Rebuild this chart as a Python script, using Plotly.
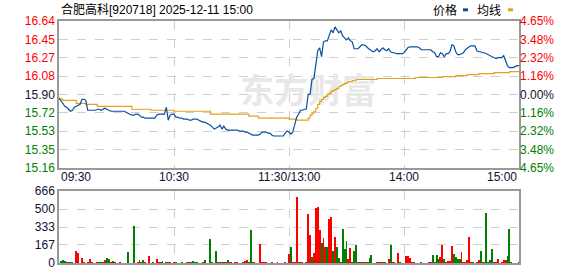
import plotly.graph_objects as go

# ---------------- data ----------------
title_text = "合肥高科[920718] 2025-12-11 15:00"
prev_close = 15.90
price_min, price_max = 15.16, 16.64
price_tick_labels = ["15.16", "15.35", "15.53", "15.72", "15.90", "16.08", "16.27", "16.45", "16.64"]
pct_tick_labels = ["4.65%", "3.48%", "2.32%", "1.16%", "0.00%", "1.16%", "2.32%", "3.48%", "4.65%"]
vol_ticks = [0, 167, 333, 500, 666]
time_labels = ["09:30", "10:30", "11:30/13:00", "14:00", "15:00"]
time_label_minute = [0, 60, 120, 180, 240]

# minute-by-minute last price (241 minutes)
price = [
    15.86, 15.84, 15.81, 15.78, 15.77, 15.75, 15.73, 15.74, 15.77, 15.78,
    15.79, 15.80, 15.85, 15.85, 15.84, 15.74, 15.74, 15.74, 15.74, 15.74,
    15.75, 15.75, 15.74, 15.75, 15.76, 15.75, 15.74, 15.73, 15.73, 15.73,
    15.73, 15.73, 15.73, 15.73, 15.73, 15.72, 15.71, 15.70, 15.69, 15.69,
    15.70, 15.70, 15.69, 15.67, 15.67, 15.66, 15.66, 15.66, 15.66, 15.66,
    15.66, 15.69, 15.70, 15.70, 15.70, 15.70, 15.77, 15.64, 15.69, 15.70,
    15.70, 15.67, 15.67, 15.66, 15.66, 15.65, 15.65, 15.65, 15.64, 15.64,
    15.65, 15.65, 15.65, 15.64, 15.63, 15.62, 15.62, 15.61, 15.60, 15.59,
    15.57, 15.55, 15.56, 15.57, 15.59, 15.55, 15.58, 15.55, 15.54, 15.54,
    15.54, 15.54, 15.54, 15.54, 15.53, 15.53, 15.53, 15.52, 15.52, 15.51,
    15.50, 15.49, 15.49, 15.49, 15.49, 15.50, 15.52, 15.52, 15.52, 15.51,
    15.51, 15.49, 15.48, 15.48, 15.48, 15.48, 15.48, 15.48, 15.51, 15.53,
    15.52, 15.50, 15.52, 15.60, 15.67, 15.70, 15.74, 15.74, 15.75, 15.75,
    15.90, 15.90, 16.05, 16.06, 16.22, 16.34, 16.37, 16.28, 16.43, 16.44,
    16.44, 16.50, 16.55, 16.52, 16.58, 16.55, 16.52, 16.54, 16.49, 16.47,
    16.45, 16.47, 16.44, 16.43, 16.36, 16.36, 16.36, 16.38, 16.40, 16.40,
    16.39, 16.37, 16.35, 16.34, 16.33, 16.34, 16.36, 16.33, 16.35, 16.37,
    16.35, 16.34, 16.36, 16.33, 16.32, 16.32, 16.31, 16.31, 16.31, 16.31,
    16.32, 16.35, 16.37, 16.38, 16.38, 16.38, 16.38, 16.38, 16.37, 16.35,
    16.35, 16.35, 16.35, 16.35, 16.35, 16.33, 16.32, 16.28, 16.28, 16.32,
    16.31, 16.28, 16.31, 16.31, 16.33, 16.40, 16.39, 16.33, 16.30, 16.30,
    16.31, 16.32, 16.35, 16.37, 16.38, 16.39, 16.39, 16.39, 16.34, 16.33,
    16.33, 16.32, 16.32, 16.31, 16.30, 16.29, 16.28, 16.27, 16.26, 16.27,
    16.27, 16.27, 16.29, 16.23, 16.19, 16.17, 16.17, 16.17, 16.18, 16.19,
    16.19,
]

# minute-by-minute average price
avg_price = [
    15.86, 15.85, 15.84, 15.84, 15.84, 15.84, 15.84, 15.84, 15.84, 15.81,
    15.81, 15.81, 15.81, 15.81, 15.80, 15.80, 15.80, 15.80, 15.80, 15.80,
    15.78, 15.78, 15.78, 15.78, 15.78, 15.78, 15.78, 15.78, 15.78, 15.78,
    15.78, 15.78, 15.78, 15.78, 15.78, 15.78, 15.78, 15.78, 15.75, 15.75,
    15.75, 15.75, 15.75, 15.75, 15.75, 15.75, 15.75, 15.75, 15.74, 15.74,
    15.74, 15.74, 15.74, 15.74, 15.74, 15.74, 15.74, 15.74, 15.74, 15.74,
    15.73, 15.73, 15.73, 15.73, 15.73, 15.73, 15.73, 15.73, 15.73, 15.73,
    15.73, 15.73, 15.73, 15.73, 15.73, 15.73, 15.73, 15.73, 15.73, 15.70,
    15.70, 15.70, 15.70, 15.70, 15.70, 15.70, 15.70, 15.70, 15.70, 15.70,
    15.70, 15.70, 15.70, 15.70, 15.70, 15.70, 15.70, 15.70, 15.70, 15.68,
    15.68, 15.68, 15.68, 15.68, 15.66, 15.66, 15.66, 15.66, 15.66, 15.66,
    15.66, 15.66, 15.66, 15.66, 15.66, 15.66, 15.66, 15.66, 15.66, 15.66,
    15.65, 15.65, 15.65, 15.65, 15.64, 15.64, 15.64, 15.64, 15.64, 15.64,
    15.66, 15.69, 15.71, 15.73, 15.76, 15.80, 15.83, 15.85, 15.87, 15.88,
    15.90, 15.91, 15.93, 15.94, 15.95, 15.96, 15.98, 15.99, 16.00, 16.01,
    16.02, 16.03, 16.03, 16.04, 16.04, 16.05, 16.05, 16.05, 16.05, 16.05,
    16.05, 16.05, 16.05, 16.05, 16.05, 16.05, 16.06, 16.06, 16.06, 16.06,
    16.06, 16.06, 16.06, 16.06, 16.06, 16.06, 16.06, 16.06, 16.06, 16.06,
    16.06, 16.06, 16.06, 16.06, 16.06, 16.06, 16.07, 16.07, 16.07, 16.07,
    16.07, 16.07, 16.07, 16.07, 16.07, 16.07, 16.07, 16.07, 16.07, 16.07,
    16.08, 16.08, 16.08, 16.08, 16.08, 16.08, 16.08, 16.09, 16.09, 16.09,
    16.09, 16.09, 16.09, 16.10, 16.10, 16.10, 16.10, 16.10, 16.10, 16.11,
    16.11, 16.11, 16.11, 16.11, 16.11, 16.11, 16.11, 16.12, 16.12, 16.12,
    16.12, 16.12, 16.12, 16.12, 16.12, 16.13, 16.13, 16.13, 16.13, 16.13,
    16.13,
]

# volume bars: minute index, volume (lots), direction (u = up/red, d = down/green)
vol_minute = [
    1, 2, 3, 4, 5, 6, 7, 9, 10, 12, 13, 15, 16, 17, 20, 21, 22, 23, 24, 25,
    26, 27, 28, 29, 32, 36, 39, 41, 42, 43, 44, 45, 47, 49, 51, 52, 53, 54, 56, 57,
    58, 60, 61, 64, 67, 68, 69, 70, 71, 72, 75, 76, 79, 80, 82, 83, 84, 85, 86, 87,
    88, 89, 90, 92, 93, 96, 97, 98, 99, 100, 101, 102, 105, 106, 107, 108, 111, 114, 118, 120,
    121, 122, 123, 124, 125, 126, 127, 129, 130, 131, 132, 133, 134, 135, 136, 137, 138, 139, 140, 141,
    142, 143, 144, 145, 146, 147, 148, 149, 150, 151, 152, 153, 154, 155, 156, 157, 158, 159, 160, 161,
    162, 163, 166, 167, 168, 169, 170, 172, 173, 174, 175, 177, 178, 181, 182, 183, 184, 185, 189, 193,
    194, 195, 196, 197, 198, 199, 200, 201, 202, 203, 204, 205, 206, 207, 208, 209, 210, 211, 212, 213,
    214, 215, 216, 218, 219, 220, 221, 222, 223, 224, 225, 226, 227, 228, 229, 231, 232, 233, 234, 235,
    236, 240,
]
vol_value = [
    21, 30, 9, 8, 8, 8, 8, 108, 90, 48, 8, 8, 36, 8, 8, 8, 8, 8, 27, 45,
    36, 8, 18, 8, 8, 99, 345, 8, 27, 8, 27, 8, 63, 8, 36, 8, 8, 18, 8, 8,
    8, 8, 8, 8, 8, 8, 8, 18, 8, 8, 8, 27, 225, 8, 108, 8, 8, 8, 8, 8,
    27, 8, 8, 8, 8, 8, 18, 27, 8, 306, 8, 8, 171, 8, 8, 8, 8, 8, 8, 81,
    150, 8, 8, 612, 8, 8, 8, 8, 450, 261, 54, 90, 513, 522, 306, 189, 234, 144, 144, 405,
    423, 108, 243, 144, 45, 8, 315, 126, 207, 36, 135, 8, 108, 162, 8, 8, 8, 8, 8, 8,
    45, 72, 8, 8, 8, 8, 8, 36, 162, 8, 8, 90, 8, 63, 63, 45, 8, 8, 8, 8,
    8, 72, 8, 72, 36, 54, 162, 36, 8, 18, 18, 153, 81, 54, 36, 36, 99, 8, 8, 27,
    243, 8, 8, 8, 27, 108, 8, 8, 459, 8, 27, 126, 8, 8, 36, 8, 27, 27, 63, 315,
    8, 8,
]
vol_dir = [
    "d", "d", "d", "u", "d", "d", "d", "u", "u", "u", "u", "d", "u", "u", "u", "d", "d", "d", "u", "d",
    "d", "u", "d", "u", "u", "d", "d", "u", "u", "d", "d", "u", "u", "d", "u", "u", "d", "u", "d", "d",
    "u", "u", "d", "d", "u", "u", "d", "d", "d", "d", "u", "d", "d", "d", "d", "u", "u", "d", "d", "u",
    "d", "u", "u", "u", "u", "d", "u", "u", "d", "d", "d", "u", "u", "u", "u", "u", "d", "u", "u", "u",
    "d", "u", "u", "u", "d", "u", "u", "d", "u", "u", "d", "u", "u", "u", "u", "d", "u", "u", "d", "u",
    "u", "d", "u", "d", "d", "u", "d", "d", "d", "u", "u", "d", "d", "d", "u", "d", "u", "d", "u", "d",
    "d", "d", "u", "u", "d", "u", "d", "u", "d", "d", "u", "u", "d", "u", "u", "u", "u", "u", "d", "u",
    "u", "d", "d", "d", "d", "u", "u", "d", "u", "u", "u", "u", "d", "d", "d", "d", "u", "u", "u", "u",
    "u", "u", "d", "d", "u", "d", "u", "d", "d", "d", "d", "d", "u", "u", "u", "u", "u", "u", "d", "d",
    "d", "u",
]

# ---------------- helpers ----------------
RED = "#ff0000"
GREEN = "#008000"
DARK = "#101030"
GRID = "#cfcfcf"
BORDER = "#999999"
FONT = "Liberation Sans, Arial, Noto Sans CJK SC, sans-serif"

minutes = list(range(len(price)))
n_ticks = len(price_tick_labels)
price_tickvals = [price_min + k * (price_max - price_min) / (n_ticks - 1) for k in range(n_ticks)]
mid = (n_ticks - 1) // 2


def tick_color(k):
    if k > mid:
        return RED
    if k == mid:
        return DARK
    return GREEN


left_text = [f'<span style="color:{tick_color(k)}">{t}</span>' for k, t in enumerate(price_tick_labels)]
right_text = [f'<span style="color:{tick_color(k)}">{t}</span>' for k, t in enumerate(pct_tick_labels)]
bar_colors = [RED if d == "u" else GREEN for d in vol_dir]

fig = go.Figure()

# watermark (drawn first so lines lie above it)
fig.add_trace(go.Scatter(
    x=[130], y=[prev_close], mode="text", text=["<b>东方财富</b>"],
    textfont=dict(size=34, color="#e8e8e8", family="Noto Sans CJK SC"),
    hoverinfo="skip", showlegend=False, xaxis="x", yaxis="y",
))

fig.add_trace(go.Scatter(
    x=minutes, y=avg_price, mode="lines", line=dict(color="#e1a21c", width=1.2),
    showlegend=False, xaxis="x", yaxis="y", line_shape="hv",
))
fig.add_trace(go.Scatter(
    x=minutes, y=price, mode="lines", line=dict(color="#0a4ea3", width=1.2),
    showlegend=False, xaxis="x", yaxis="y3",
))
fig.add_trace(go.Bar(
    x=vol_minute, y=vol_value, marker=dict(color=bar_colors, line=dict(width=0)),
    width=0.5, showlegend=False, xaxis="x2", yaxis="y2",
))

price_dom = [(270 - 172) / 249, 1]
vol_dom = [0, (270 - 196) / 249]

xcommon = dict(
    range=[0, 240], tickvals=[60, 120, 180], showticklabels=False, ticks="",
    showgrid=True, gridcolor=GRID, griddash="dash", gridwidth=1,
    showline=True, linecolor=BORDER, linewidth=1.5, mirror=True, zeroline=False,
    fixedrange=True,
)

fig.update_layout(
    width=578, height=276,
    margin=dict(l=59, r=59, t=21, b=6, pad=0),
    paper_bgcolor="white", plot_bgcolor="white",
    font=dict(family=FONT, size=12, color=DARK),
    bargap=0,
    xaxis=dict(**xcommon, anchor="y"),
    xaxis2=dict(**xcommon, anchor="y2", matches="x"),
    yaxis=dict(
        domain=price_dom, range=[price_min, price_max], tickvals=price_tickvals, ticktext=left_text,
        showgrid=True, gridcolor=GRID, griddash="dash", gridwidth=1, ticks="",
        showline=True, linecolor=BORDER, linewidth=1.5, mirror=True, zeroline=False,
        tickfont=dict(size=12, family=FONT),
    ),
    yaxis3=dict(
        overlaying="y", side="right", range=[price_min, price_max], tickvals=price_tickvals,
        ticktext=right_text, showgrid=False, ticks="", zeroline=False, showline=False,
        tickfont=dict(size=12, family=FONT),
    ),
    yaxis2=dict(
        domain=vol_dom, range=[0, 666], tickvals=vol_ticks, ticktext=[str(v) for v in vol_ticks],
        showgrid=True, gridcolor=GRID, griddash="dash", gridwidth=1, ticks="",
        showline=True, linecolor=BORDER, linewidth=1.5, mirror=True, zeroline=False,
        tickfont=dict(size=12, family=FONT, color=DARK),
    ),
)

annotations = []
# title
annotations.append(dict(
    text=title_text, xref="paper", yref="paper", x=0, y=(270 - 9) / 249,
    xanchor="left", yanchor="middle", showarrow=False,
    font=dict(size=12, color="#000000", family=FONT),
))
# time axis labels
y_time = (270 - 182) / 249
anchors = ["left", "center", "center", "center", "right"]
for lab, m, a in zip(time_labels, time_label_minute, anchors):
    annotations.append(dict(
        text=lab, xref="x", yref="paper", x=m, y=y_time, xanchor=a, yanchor="middle",
        showarrow=False, font=dict(size=12, color=DARK, family=FONT),
    ))
# legend
for lab, px in [("价格", 431), ("均线", 475)]:
    annotations.append(dict(
        text=lab, xref="paper", yref="paper", x=(px - 59) / 460, y=(270 - 9) / 249,
        xanchor="left", yanchor="middle", showarrow=False,
        font=dict(size=12, color="#000000", family="Noto Sans CJK SC"),
    ))
fig.update_layout(annotations=annotations)

shapes = []
for (x0, x1), col in [((463, 468), "#0a4ea3"), ((508, 513), "#e1a21c")]:
    shapes.append(dict(
        type="rect", xref="paper", yref="paper",
        x0=(x0 - 59) / 460, x1=(x1 - 59) / 460,
        y0=(270 - 11) / 249, y1=(270 - 8) / 249,
        fillcolor=col, line=dict(width=0),
    ))
fig.update_layout(shapes=shapes)

fig.write_html("out.html")
